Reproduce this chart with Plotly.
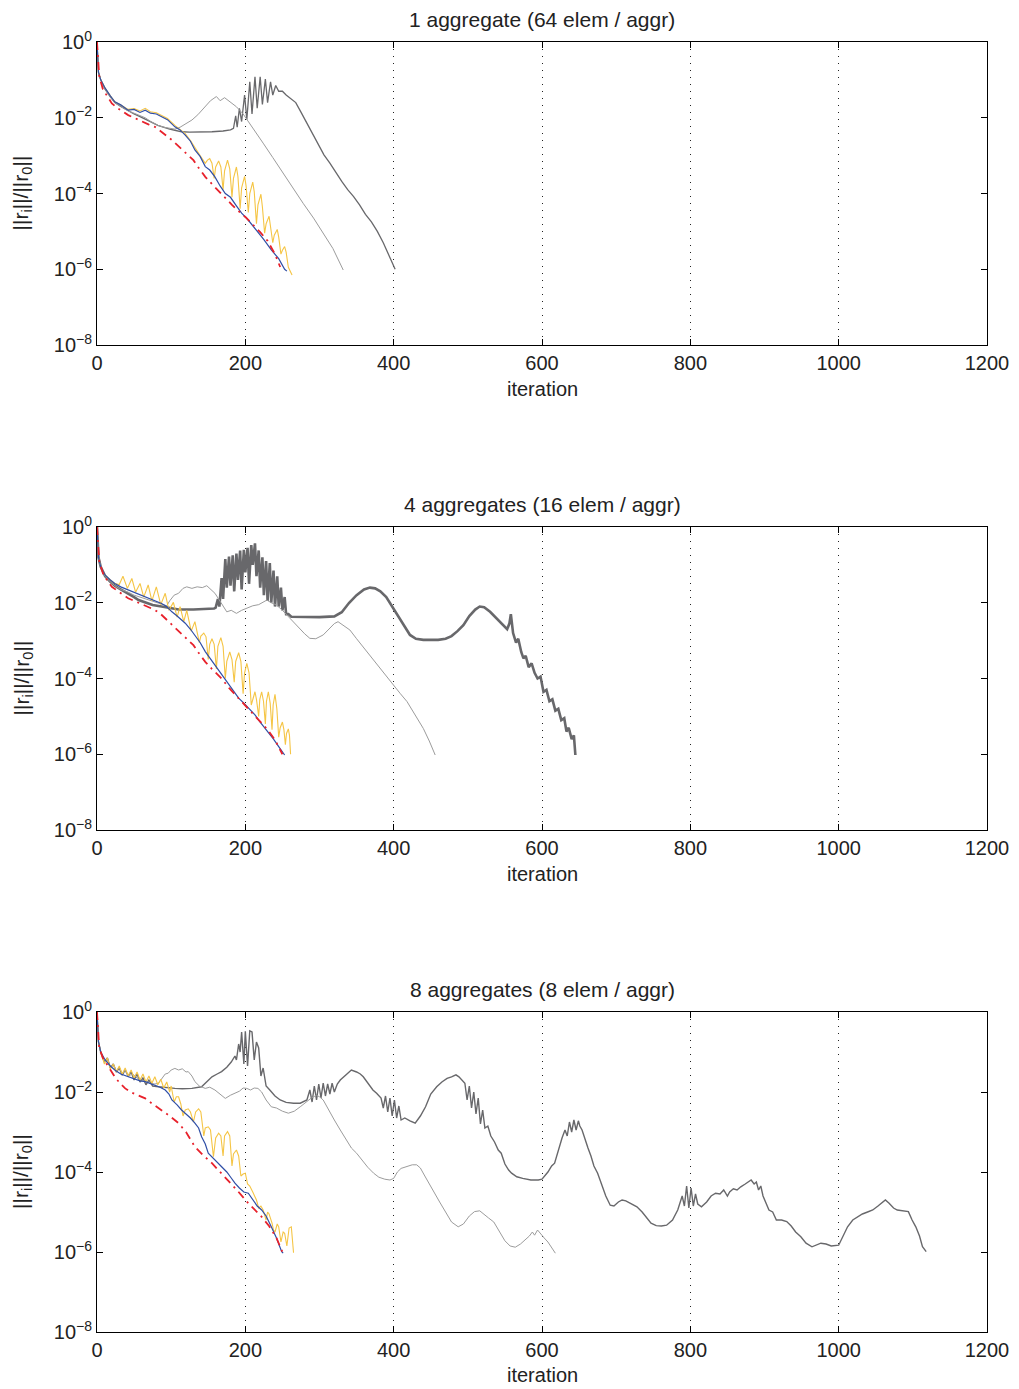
import plotly.graph_objects as go

# ---------------- data (log10 of ||r_i||/||r_0||) ----------------
panel_titles = ["1 aggregate (64 elem / aggr)", "4 aggregates (16 elem / aggr)", "8 aggregates (8 elem / aggr)"]
x_ticks = [0, 200, 400, 600, 800, 1000, 1200]
y_tick_exp = [-8, -6, -4, -2, 0]

# ---- panel 1 ----
p1_blue_it = [0, 2, 5, 11, 18, 24, 32, 42, 50, 58, 65, 72, 80, 87, 95, 105, 112, 119, 126, 132, 139, 146, 152, 159, 166, 173, 180, 187, 195, 203, 210, 217, 225, 235, 245, 253, 256]
p1_blue_lg = [0, -0.8, -1.0, -1.22, -1.42, -1.58, -1.66, -1.80, -1.78, -1.86, -1.80, -1.88, -1.90, -1.97, -2.05, -2.24, -2.32, -2.46, -2.62, -2.85, -3.02, -3.29, -3.38, -3.56, -3.80, -4.0, -4.10, -4.30, -4.52, -4.68, -4.85, -5.05, -5.22, -5.49, -5.72, -6.0, -6.05]
p1_red_it = [0, 3, 8, 14, 20, 28, 36, 42, 50, 60, 70, 78, 86, 94, 101, 110, 118, 123, 130, 138, 146, 155, 162, 168, 175, 182, 190, 200, 210, 220, 230, 240, 247]
p1_red_lg = [0, -0.9, -1.25, -1.45, -1.62, -1.75, -1.85, -1.93, -2.0, -2.1, -2.18, -2.24, -2.35, -2.48, -2.59, -2.75, -2.90, -2.98, -3.12, -3.35, -3.56, -3.75, -3.90, -4.0, -4.15, -4.30, -4.45, -4.62, -4.82, -5.02, -5.25, -5.60, -5.94]
p1_yel_it = [0, 2, 5, 11, 18, 24, 32, 42, 50, 58, 65, 72, 80, 87, 95, 105, 112, 119, 126, 132, 139,
             146, 149, 152, 155, 158, 160, 164, 167, 170, 172, 176, 179, 182, 184, 188, 190, 193, 195, 199, 201, 204, 206, 210, 212, 215, 217, 221, 223, 226, 228, 232, 234, 237, 239, 243, 245, 248, 250, 253, 255, 258, 263]
p1_yel_lg = [0, -0.8, -1.0, -1.22, -1.42, -1.58, -1.66, -1.78, -1.76, -1.82, -1.75, -1.84, -1.87, -1.94, -2.02, -2.2, -2.3, -2.42, -2.6, -2.8, -3.0,
             -3.2, -3.12, -3.08, -3.2, -3.6, -3.3, -3.14, -3.3, -3.9, -3.4, -3.12, -3.35, -4.1, -3.6, -3.3, -3.55, -4.4, -3.85, -3.55, -3.8, -4.5, -4.0, -3.7, -3.95, -4.8, -4.3, -4.02, -4.35, -5.05, -4.8, -4.6, -4.85, -5.3, -5.1, -4.95, -5.15, -5.6, -5.5, -5.4, -5.55, -5.95, -6.15]
p1_lgray_it = [0, 2, 5, 11, 18, 24, 32, 42, 50, 58, 65, 74, 82, 90, 98, 105, 112, 120, 128, 136, 146, 153, 161, 166, 172, 180, 188, 197, 206, 215, 224, 237, 251, 264, 278, 292, 305, 318, 332]
p1_lgray_lg = [0, -0.8, -1.0, -1.25, -1.45, -1.6, -1.7, -1.82, -1.88, -1.95, -2.0, -2.12, -2.2, -2.25, -2.28, -2.3, -2.25, -2.16, -2.06, -1.92, -1.71, -1.55, -1.44, -1.55, -1.47, -1.6, -1.71, -1.9, -2.15, -2.4, -2.67, -3.05, -3.47, -3.85, -4.26, -4.65, -5.05, -5.45, -6.02]
p1_dgray_it = [0, 2, 5, 11, 18, 24, 32, 42, 50, 58, 65, 74, 82, 90, 98, 105, 114, 125, 140, 155, 170, 180, 184, 187, 189, 192, 195, 199, 202, 206, 209, 213, 216, 220, 223, 227, 230, 234, 237, 241, 245, 250, 255, 262, 268, 275, 283, 290, 298, 306, 314, 322, 330, 338, 346, 354, 362, 370, 378, 386, 394, 398, 402]
p1_dgray_lg = [0, -0.8, -1.0, -1.25, -1.45, -1.6, -1.7, -1.82, -1.9, -1.97, -2.03, -2.12, -2.2, -2.26, -2.3, -2.33, -2.37, -2.38, -2.38, -2.37, -2.35, -2.32, -2.28, -1.95, -2.25, -1.75, -2.1, -1.4, -2.05, -1.05, -1.9, -0.92, -1.75, -0.92, -1.65, -0.98, -1.6, -1.05, -1.4, -1.15, -1.3, -1.3, -1.4, -1.5, -1.6, -1.85, -2.15, -2.42, -2.7, -2.98, -3.2, -3.45, -3.68, -3.9, -4.08, -4.3, -4.55, -4.75, -5.0, -5.3, -5.65, -5.8, -6.0]

# ---- panel 2 ----
p2_blue_it = [0, 2, 5, 11, 18, 24, 32, 42, 50, 58, 65, 72, 80, 87, 94, 101, 108, 114, 119, 126, 132, 139, 146, 150, 155, 162, 168, 175, 183, 191, 198, 205, 213, 220, 226, 231, 238, 245, 251, 253]
p2_blue_lg = [0, -0.8, -1.05, -1.27, -1.4, -1.49, -1.58, -1.66, -1.72, -1.8, -1.84, -1.9, -1.96, -2.02, -2.1, -2.24, -2.35, -2.45, -2.54, -2.7, -2.85, -3.05, -3.29, -3.4, -3.56, -3.72, -3.91, -4.1, -4.3, -4.52, -4.65, -4.8, -4.96, -5.15, -5.3, -5.40, -5.6, -5.8, -5.98, -6.02]
p2_red_it = [0, 3, 8, 14, 20, 28, 36, 42, 50, 60, 70, 78, 86, 94, 101, 110, 118, 123, 130, 138, 146, 155, 162, 168, 178, 190, 200, 210, 220, 230, 240, 250]
p2_red_lg = [0, -0.9, -1.22, -1.42, -1.58, -1.7, -1.8, -1.88, -1.95, -2.05, -2.13, -2.19, -2.3, -2.45, -2.59, -2.75, -2.9, -2.98, -3.12, -3.35, -3.56, -3.75, -3.9, -4.0, -4.25, -4.5, -4.7, -4.92, -5.12, -5.35, -5.62, -6.0]
p2_yel_it = [0, 2, 5, 11, 18, 24, 30, 35, 41, 47, 52, 58, 63, 69, 74, 80, 86, 92, 97, 103, 108, 112, 117, 121, 127, 132,
             138, 140, 144, 147, 150, 152, 155, 158, 161, 163, 167, 170, 173, 175, 179, 182, 185, 187, 191, 194, 197, 199, 202, 205, 208, 210, 213, 215, 218, 219.5, 222, 224.5, 227, 228.5, 231, 233.5, 236, 237.5, 240, 242.5, 245, 247, 250, 252, 254, 255.5, 258, 259.5, 261]
p2_yel_lg = [0, -0.8, -1.05, -1.27, -1.4, -1.49, -1.52, -1.3, -1.62, -1.36, -1.72, -1.49, -1.85, -1.53, -1.95, -1.58, -2.05, -1.75, -2.2, -1.99, -2.38, -2.1, -2.5, -2.2, -2.75, -2.5,
             -3.05, -2.88, -2.8, -2.9, -3.5, -3.1, -2.95, -3.1, -3.75, -3.15, -2.92, -3.15, -4.0, -3.55, -3.3, -3.5, -4.1, -3.55, -3.32, -3.55, -4.4, -3.85, -3.6, -3.85, -4.7, -4.55, -4.35, -4.55, -5.0, -4.55, -4.35, -4.6, -5.2, -4.6, -4.35, -4.65, -5.35, -4.7, -4.42, -4.8, -5.55, -5.3, -5.15, -5.35, -5.75, -5.45, -5.33, -5.5, -6.0]
p2_lgray_it = [0, 2, 5, 11, 18, 24, 32, 42, 50, 58, 65, 72, 80, 87, 94, 98, 104, 110, 116, 121, 128, 135, 142, 148, 154, 159, 164, 170, 175, 181, 188, 195, 202, 210, 218, 225, 229, 235, 242, 250, 260, 270, 280, 287, 295, 305, 313, 320, 325, 332, 341, 350, 358, 364, 372, 380, 386, 393, 400, 409, 418, 428, 440, 448, 456]
p2_lgray_lg = [0, -0.8, -1.05, -1.3, -1.45, -1.55, -1.65, -1.72, -1.8, -1.85, -1.9, -1.95, -2.0, -2.05, -2.08, -1.95, -1.8, -1.75, -1.62, -1.58, -1.62, -1.58, -1.6, -1.55, -1.65, -1.75, -1.9, -2.1, -2.24, -2.2, -2.28, -2.2, -2.15, -2.08, -2.05, -1.98, -1.93, -2.0, -2.06, -2.2, -2.41, -2.62, -2.82, -2.94, -2.95, -2.85, -2.7, -2.55, -2.5, -2.6, -2.72, -2.95, -3.15, -3.29, -3.5, -3.68, -3.82, -4.0, -4.17, -4.4, -4.61, -4.95, -5.32, -5.65, -6.02]
p2_dgray_it = [0, 2, 5, 11, 18, 24, 32, 42, 50, 56, 65, 75, 87, 100, 110, 130, 150, 158, 160, 163, 165, 168, 170, 173, 175, 178, 180, 183, 185, 188, 190, 193, 195, 198, 200, 203, 205, 208, 210, 213, 215, 218, 220, 223, 225, 228, 230, 233, 235, 238, 240, 243, 245, 248, 250, 253, 255, 258, 262,
               275, 300, 320, 330, 340, 350, 360, 368, 375, 382, 390, 398, 405, 413, 422, 430, 440, 450, 460, 470, 478, 486, 494, 502, 510, 516, 522, 530, 538, 545, 550, 553, 556, 558, 561, 565, 568, 572, 575, 578, 582, 586, 590, 594, 598, 602, 606, 610, 614, 618, 622, 626, 630, 633, 636, 640, 643, 645]
p2_dgray_lg = [0, -0.8, -1.05, -1.3, -1.45, -1.55, -1.65, -1.75, -1.85, -1.93, -2.0, -2.06, -2.1, -2.15, -2.18, -2.18, -2.17, -2.15, -2.13, -1.9, -2.1, -1.35, -1.9, -0.85, -1.6, -0.78, -1.55, -0.75, -1.7, -0.7, -1.4, -0.62, -1.65, -0.6, -1.2, -0.55, -1.5, -0.48, -1.0, -0.43, -1.3, -0.62, -1.6, -0.8, -1.8, -0.9, -1.95, -0.95, -2.0, -1.15, -2.1, -1.3, -2.1, -1.6, -2.2, -1.85, -2.3, -2.3, -2.37,
               -2.38, -2.38, -2.36, -2.25, -2.0, -1.8, -1.65, -1.6, -1.62, -1.7, -1.85, -2.1, -2.35, -2.6, -2.85, -2.95, -2.98, -2.98, -2.98, -2.95, -2.88, -2.75, -2.59, -2.35, -2.18, -2.1, -2.12, -2.24, -2.4, -2.55, -2.65, -2.7, -2.55, -2.3, -2.8, -3.05, -2.95, -3.3, -3.47, -3.4, -3.7, -3.6, -3.85, -4.0, -3.95, -4.35, -4.3, -4.6, -4.55, -4.85, -4.8, -5.1, -5.05, -5.4, -5.3, -5.6, -5.5, -6.02]

# ---- panel 3 ----
p3_blue_it = [0, 2, 5, 11, 18, 24, 32, 42, 50, 58, 65, 72, 78, 85, 92, 97, 101, 108, 114, 120, 126, 132, 137, 141, 146, 150, 155, 161, 168, 175, 181, 186, 192, 198, 204, 210, 216, 222, 228, 235, 242, 249, 251]
p3_blue_lg = [0, -0.75, -1.0, -1.2, -1.35, -1.45, -1.55, -1.62, -1.66, -1.72, -1.74, -1.78, -1.83, -1.88, -1.95, -2.05, -2.2, -2.32, -2.45, -2.55, -2.65, -2.78, -2.9, -3.12, -3.3, -3.53, -3.62, -3.75, -3.87, -4.0, -4.15, -4.28, -4.4, -4.5, -4.53, -4.7, -4.85, -4.95, -5.1, -5.37, -5.65, -5.99, -6.03]
p3_red_it = [0, 3, 8, 13, 18, 25, 32, 38, 45, 55, 65, 75, 87, 98, 110, 120, 132, 143, 155, 166, 177, 190, 204, 213, 222, 232, 242, 250]
p3_red_lg = [0, -0.9, -1.15, -1.3, -1.45, -1.65, -1.8, -1.91, -2.0, -2.08, -2.16, -2.3, -2.45, -2.6, -2.78, -3.0, -3.37, -3.58, -3.78, -4.0, -4.2, -4.48, -4.78, -4.95, -5.12, -5.35, -5.65, -6.0]
p3_yel_it = [0, 2, 5, 10, 14, 18, 22, 26, 30, 34, 38, 42, 46, 50, 54, 58, 62, 66, 70, 74, 78, 82, 86, 90, 94, 98,
             100, 104, 107, 110, 113, 116, 119, 123, 126, 130, 133, 137, 140, 144, 146, 150, 153, 157, 160, 164, 167, 170, 172, 176, 179, 182, 184, 188, 191, 194, 197, 200, 203, 206, 210, 215, 218, 221, 224, 228, 230, 232, 236, 238, 240, 243, 245, 248, 251, 253, 256, 259, 262, 265]
p3_yel_lg = [0, -0.75, -1.0, -1.3, -1.15, -1.42, -1.3, -1.5, -1.35, -1.55, -1.4, -1.6, -1.45, -1.65, -1.5, -1.7, -1.55, -1.75, -1.6, -1.78, -1.62, -1.82, -1.68, -1.9, -1.75, -2.0,
             -1.85, -2.25, -2.12, -2.12, -2.3, -2.6, -2.45, -2.42, -2.5, -2.75, -2.5, -2.42, -2.5, -3.1, -2.9, -2.87, -2.95, -3.62, -3.15, -3.03, -3.1, -3.6, -3.1, -2.99, -3.1, -3.85, -3.55, -3.45, -3.6, -4.1, -4.05, -4.03, -4.3, -4.35, -4.5, -4.7, -4.9, -4.85, -4.95, -5.2, -5.0, -5.05, -5.28, -5.45, -5.5, -5.3, -5.37, -5.75, -5.5, -5.53, -5.85, -5.4, -5.37, -6.02]
p3_lgray_it = [0, 2, 5, 10, 14, 18, 22, 26, 30, 34, 38, 42, 48, 54, 60, 66, 72, 78, 83, 88, 92, 96, 100, 105, 110, 115, 120, 123, 128, 132, 138, 146, 152, 159, 166, 173, 180, 186, 192, 197, 202, 207, 212, 217, 222, 228, 235, 242, 250, 258, 266, 274, 282, 289, 296, 300, 305, 312, 320, 328, 336, 343, 350, 358, 365, 373, 380, 388, 395, 400, 405, 410, 418, 425, 431, 436, 442, 448, 455, 462, 470, 478, 487, 494, 502, 509, 516, 522, 528, 535, 543, 550, 557, 564, 571, 577, 583, 587, 590, 594, 598, 603, 608, 613, 618]
p3_lgray_lg = [0, -0.75, -1.0, -1.25, -1.15, -1.4, -1.3, -1.48, -1.38, -1.55, -1.45, -1.6, -1.55, -1.65, -1.7, -1.75, -1.78, -1.8, -1.78, -1.65, -1.55, -1.53, -1.45, -1.41, -1.45, -1.42, -1.5, -1.49, -1.6, -1.74, -1.85, -1.91, -1.88, -1.95, -2.05, -2.16, -2.08, -2.03, -1.98, -1.9, -1.91, -1.95, -1.9, -1.91, -2.0, -2.2, -2.37, -2.4, -2.48, -2.53, -2.48, -2.37, -2.25, -2.15, -2.08, -2.12, -2.2, -2.45, -2.7, -2.95, -3.2, -3.4, -3.53, -3.72, -3.88, -4.03, -4.13, -4.18, -4.2, -4.16, -4.0, -3.91, -3.86, -3.82, -3.82, -3.9, -4.1, -4.3, -4.55, -4.75, -5.0, -5.25, -5.37, -5.3, -5.1, -4.99, -4.97, -5.05, -5.15, -5.25, -5.5, -5.72, -5.85, -5.88, -5.8, -5.7, -5.6, -5.5, -5.58, -5.45, -5.55, -5.65, -5.75, -5.9, -6.03]
p3_dgray_it = [0, 2, 5, 10, 14, 18, 22, 26, 30, 34, 38, 42, 46, 50, 54, 58, 62, 66, 70, 75, 83, 95, 105, 115, 128, 141, 148, 155, 162, 168, 175, 181, 186, 188, 191, 193, 195, 198, 200, 203, 206, 209, 212, 215, 218, 221, 224, 228, 233, 240, 247, 255, 265, 274, 283,
               287, 290, 293, 296, 299, 302, 305, 308, 311, 314, 317, 320, 324, 328, 335, 343, 350, 355, 359, 366, 372, 377, 383, 386, 389, 392, 395, 398, 401, 404, 407, 410, 415, 422, 429, 436, 443, 450, 458, 465, 472, 478, 484, 488, 492, 496, 499, 502, 505, 508, 511, 514, 517, 520, 523, 527, 531, 536, 541, 545, 550, 555, 559, 566, 574, 585, 595, 600,
               608, 613, 617, 622, 627, 631, 634, 637, 640, 643, 646, 649, 651, 654, 658, 662, 666, 670, 675, 680, 686, 692, 697, 703, 708, 713, 720, 728, 735, 741, 747, 754, 761, 768, 776, 783, 789, 792, 795, 798, 801, 804, 807, 810, 815, 822, 828, 834, 840, 845, 850, 853, 858, 863, 868, 874, 882, 886, 889, 892, 895, 898, 902, 906, 911, 916, 923, 930, 936, 942, 949, 956, 964, 970, 976, 983, 990, 1000,
               1006, 1012, 1019, 1026, 1032, 1039, 1046, 1053, 1058, 1063, 1068, 1074, 1079, 1086, 1094, 1099, 1104, 1109, 1113, 1118]
p3_dgray_lg = [0, -0.75, -1.0, -1.25, -1.15, -1.4, -1.3, -1.5, -1.4, -1.58, -1.45, -1.6, -1.5, -1.7, -1.55, -1.75, -1.65, -1.82, -1.7, -1.85, -1.87, -1.9, -1.91, -1.92, -1.91, -1.87, -1.75, -1.62, -1.55, -1.49, -1.38, -1.25, -1.1, -1.2, -0.8, -1.0, -0.5, -1.3, -0.48, -1.35, -0.47, -0.5, -1.2, -0.75, -0.9, -1.6, -1.4, -1.85, -1.95, -2.1, -2.2, -2.26, -2.28, -2.28, -2.2,
               -1.95, -2.25, -1.85, -2.2, -1.8, -2.15, -1.78, -2.1, -1.8, -2.05, -1.78, -2.0, -1.8, -1.7, -1.58, -1.45, -1.5, -1.55, -1.62, -1.8, -1.95, -2.03, -2.15, -2.4, -2.1, -2.5, -2.15, -2.6, -2.2, -2.65, -2.35, -2.7, -2.65, -2.72, -2.78, -2.6, -2.37, -2.05, -1.87, -1.75, -1.66, -1.62, -1.57, -1.62, -1.7, -1.78, -2.2, -1.85, -2.4, -2.0, -2.55, -2.15, -2.8, -2.45, -2.9, -2.85, -3.1, -3.25, -3.45, -3.53, -3.8, -3.95, -4.03, -4.12, -4.16, -4.2, -4.2, -4.18,
               -4.0, -3.85, -3.78, -3.45, -3.15, -2.95, -3.1, -2.75, -3.0, -2.7, -2.95, -2.72, -2.85, -2.95, -3.2, -3.4, -3.6, -3.85, -4.03, -4.3, -4.6, -4.83, -4.85, -4.75, -4.7, -4.72, -4.8, -4.87, -5.0, -5.15, -5.28, -5.34, -5.35, -5.33, -5.2, -4.95, -4.6, -4.85, -4.35, -4.9, -4.4, -4.85, -4.55, -4.8, -4.87, -4.75, -4.6, -4.53, -4.55, -4.45, -4.6, -4.5, -4.42, -4.45, -4.37, -4.3, -4.2, -4.3, -4.25, -4.45, -4.35, -4.6, -4.8, -4.95, -5.0, -5.2, -5.2, -5.24, -5.35, -5.5, -5.62, -5.78, -5.87, -5.82, -5.78, -5.8, -5.85, -5.83,
               -5.6, -5.37, -5.2, -5.12, -5.05, -5.0, -4.95, -4.85, -4.78, -4.7, -4.78, -4.9, -4.95, -4.97, -4.99, -5.2, -5.37, -5.6, -5.87, -5.99]

# ---------------- styling ----------------
C_DGRAY = "#68686b"
C_LGRAY = "#9c9c9c"
C_YEL = "#f5c545"
C_BLUE = "#2f4ea6"
C_RED = "#e8212b"
FONT = "Liberation Sans, Arial, Helvetica, sans-serif"
FS = 20

panels = [
    dict(dgray=(p1_dgray_it, p1_dgray_lg), lgray=(p1_lgray_it, p1_lgray_lg), yel=(p1_yel_it, p1_yel_lg),
         blue=(p1_blue_it, p1_blue_lg), red=(p1_red_it, p1_red_lg), dw=1.3),
    dict(dgray=(p2_dgray_it, p2_dgray_lg), lgray=(p2_lgray_it, p2_lgray_lg), yel=(p2_yel_it, p2_yel_lg),
         blue=(p2_blue_it, p2_blue_lg), red=(p2_red_it, p2_red_lg), dw=2.6),
    dict(dgray=(p3_dgray_it, p3_dgray_lg), lgray=(p3_lgray_it, p3_lgray_lg), yel=(p3_yel_it, p3_yel_lg),
         blue=(p3_blue_it, p3_blue_lg), red=(p3_red_it, p3_red_lg), dw=1.4),
]

H = 1389
ydomains = [[1 - 345 / H, 1 - 42 / H], [1 - 830 / H, 1 - 527 / H], [1 - 1332 / H, 1 - 1012 / H]]
title_y = [1 - 19 / H, 1 - 504 / H, 1 - 989 / H]
xlabel_y = [1 - 389 / H, 1 - 874 / H, 1 - 1375 / H]

fig = go.Figure()

for k, p in enumerate(panels):
    xa = "x" if k == 0 else f"x{k+1}"
    ya = "y" if k == 0 else f"y{k+1}"

    def add(series, color, width, dash="solid"):
        it, lg = series
        fig.add_trace(go.Scatter(x=it, y=[10 ** v for v in lg], mode="lines",
                                 line=dict(color=color, width=width, dash=dash),
                                 xaxis=xa, yaxis=ya, showlegend=False, hoverinfo="skip"))

    add(p["dgray"], C_DGRAY, p["dw"])
    add(p["lgray"], C_LGRAY, 1.0)
    add(p["yel"], C_YEL, 1.1)
    add(p["blue"], C_BLUE, 1.2)
    add(p["red"], C_RED, 1.8, dash="8px,5px,2px,5px")

    axis_common = dict(showline=True, linecolor="black", linewidth=1, mirror="ticks",
                       ticks="inside", ticklen=6, tickcolor="black", tickwidth=1,
                       tickfont=dict(family=FONT, size=FS, color="#222"), zeroline=False,
                       automargin=False)
    fig.layout[("xaxis" if k == 0 else f"xaxis{k+1}")] = dict(
        **axis_common, domain=[0, 1], anchor=ya, range=[0, 1200],
        tickvals=x_ticks, ticktext=[str(t) for t in x_ticks],
        showgrid=True, gridcolor="#222", griddash="1px,6px", gridwidth=1)
    fig.layout[("yaxis" if k == 0 else f"yaxis{k+1}")] = dict(
        **axis_common, domain=ydomains[k], anchor=xa, type="log", range=[-8, 0],
        tickvals=[10 ** e for e in y_tick_exp],
        ticktext=[f"10<sup>{str(e).replace('-', '−')}</sup>" for e in y_tick_exp],
        showgrid=False)

    fig.add_annotation(text=panel_titles[k], xref="paper", yref="paper", x=0.5, y=title_y[k],
                       xanchor="center", yanchor="middle", showarrow=False,
                       font=dict(family=FONT, size=FS + 1, color="#222"))
    fig.add_annotation(text="iteration", xref="paper", yref="paper", x=0.5, y=xlabel_y[k],
                       xanchor="center", yanchor="middle", showarrow=False,
                       font=dict(family=FONT, size=FS, color="#222"))
    fig.add_annotation(text="||r<sub>i</sub>||/||r<sub>0</sub>||", xref="paper", yref="paper",
                       x=(22 - 97) / 890, y=sum(ydomains[k]) / 2, textangle=-90,
                       xanchor="center", yanchor="middle", showarrow=False,
                       font=dict(family=FONT, size=FS + 1, color="#222"))

fig.update_layout(width=1019, height=1389, margin=dict(l=97, r=32, t=0, b=0, autoexpand=False),
                  plot_bgcolor="white", paper_bgcolor="white", showlegend=False)

fig.write_html("out.html", config={"displayModeBar": False},
               post_script="document.body.style.margin='0px';")
